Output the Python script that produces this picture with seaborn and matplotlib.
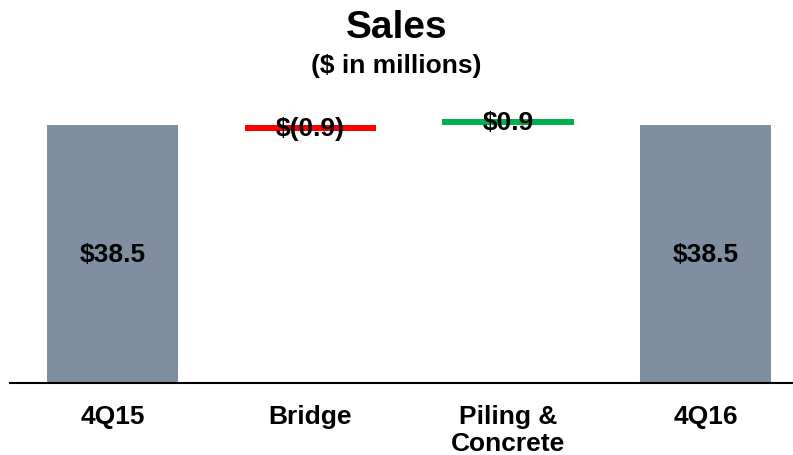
import matplotlib
matplotlib.use("Agg")
import matplotlib.pyplot as plt
import seaborn as sns
import pandas as pd

categories = ["4Q15", "Bridge", "Piling &\nConcrete", "4Q16"]
values = [38.5, -0.9, 0.9, 38.5]
kinds = ["total", "delta", "delta", "total"]
labels = ["$38.5", "$(0.9)", "$0.9", "$38.5"]
start_level = 38.5

sns.set_theme(style="white")
plt.rcParams["font.family"] = ["Liberation Sans", "DejaVu Sans"]
plt.rcParams["text.color"] = "black"
plt.rcParams["xtick.color"] = "black"

# compute bar bottoms / heights from data
bottoms, heights, colors = [], [], []
for v, k in zip(values, kinds):
    if k == "total":
        bottoms.append(0.0); heights.append(v); colors.append("#7F8FA1")
    else:
        if v < 0:
            bottoms.append(start_level + v); heights.append(-v); colors.append("#FF0000")
        else:
            bottoms.append(start_level); heights.append(v); colors.append("#00B050")

df = pd.DataFrame({"cat": categories, "h": heights, "b": bottoms})

fig = plt.figure(figsize=(7.93, 4.56), dpi=100)
ax = fig.add_axes([10 / 793, 72 / 456, 783 / 793, 294 / 456])

sns.barplot(data=df, x="cat", y="h", ax=ax, width=0.665, legend=False)
for patch, b, c in zip(ax.patches, bottoms, colors):
    patch.set_y(b)
    patch.set_facecolor(c)
    patch.set_edgecolor("none")

ax.set_xlim(-0.52, 3.443)
ax.set_ylim(0, 43.9)

for i, (lab, k, b, h) in enumerate(zip(labels, kinds, bottoms, heights)):
    y = b + h / 2
    ax.text(i, y, lab, ha="center", va="center", fontsize=19, fontweight="bold", color="black")

ax.set_xlabel("")
ax.set_ylabel("")
ax.set_yticks([])
ax.tick_params(axis="x", length=0, pad=15, labelsize=19, labelcolor="black")
for t in ax.get_xticklabels():
    t.set_fontweight("bold")
    t.set_verticalalignment("top")
    t.set_linespacing(1.15)
for s in ["top", "right", "left"]:
    ax.spines[s].set_visible(False)
ax.spines["bottom"].set_color("black")
ax.spines["bottom"].set_linewidth(1.5)

fig.text(0.5, 1 - 28 / 456, "Sales", ha="center", va="center", fontsize=28, fontweight="bold", color="black")
fig.text(0.5, 1 - 66 / 456, "($ in millions)", ha="center", va="center", fontsize=19, fontweight="bold", color="black")

fig.savefig("out.png", dpi=100, facecolor="white")
